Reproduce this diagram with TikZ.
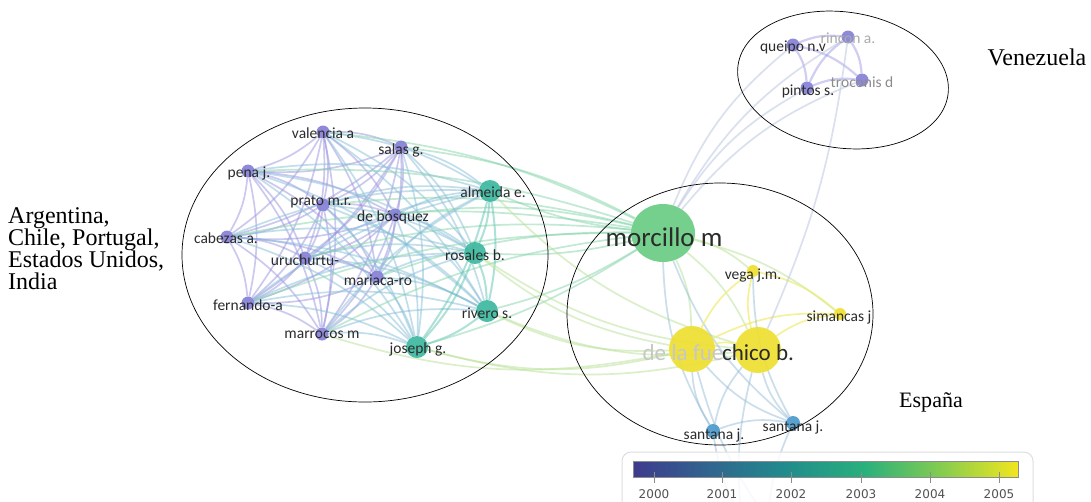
\documentclass[tikz,border=0pt]{standalone}
\usepackage{fontspec}
\setmainfont{Liberation Serif}
\newfontfamily\labfont{Carlito}
\newfontfamily\tickfont{DejaVu Sans}
\usetikzlibrary{shapes.geometric}
\pgfdeclarelayer{edges}
\pgfsetlayers{edges,main}
\pgfdeclarehorizontalshading{viridisbar}{100bp}{rgb(0bp)=(0.24,0.23,0.55); rgb(25bp)=(0.24,0.23,0.55); rgb(35bp)=(0.19,0.40,0.56); rgb(45bp)=(0.13,0.55,0.55); rgb(55bp)=(0.16,0.69,0.49); rgb(65bp)=(0.52,0.80,0.31); rgb(75bp)=(0.95,0.90,0.12); rgb(100bp)=(0.95,0.90,0.12)}
\definecolor{cP}{HTML}{8580D6}
\definecolor{cT}{HTML}{3DB89F}
\definecolor{cG}{HTML}{6ACD84}
\definecolor{cY}{HTML}{EEE030}
\definecolor{cB}{HTML}{4C9ACB}
\definecolor{ePPc}{HTML}{9A95E0}
\definecolor{ePTc}{HTML}{86BFD8}
\definecolor{eTTc}{HTML}{5FC4B0}
\definecolor{eGc}{HTML}{84D5AA}
\definecolor{eGYc}{HTML}{B8E296}
\definecolor{eYc}{HTML}{F0EC70}
\definecolor{eBc}{HTML}{96BED8}
\definecolor{eVc}{HTML}{A29EE4}
\definecolor{eVoc}{HTML}{B8C2E0}
\definecolor{labc}{HTML}{2B2B2B}
\begin{document}
\begin{tikzpicture}[x=1pt,y=-1pt,
  dotbase/.style={circle,inner sep=0pt,fill opacity=0.92},
  dotP/.style={dotbase,minimum size=13pt,fill=cP},
  dotV/.style={dotbase,minimum size=13pt,fill=cP},
  dotT/.style={dotbase,minimum size=22pt,fill=cT},
  dotG/.style={ellipse,inner sep=0pt,minimum width=64pt,minimum height=58pt,fill=cG,fill opacity=0.92},
  dotY/.style={dotbase,minimum size=46pt,fill=cY},
  dotYs/.style={dotbase,minimum size=12pt,fill=cY},
  dotB/.style={dotbase,minimum size=14pt,fill=cB},
  lbl/.style={font=\labfont\fontsize{15.5}{16}\selectfont,text=labc,inner sep=0pt},
  biglbl/.style={font=\labfont\fontsize{27}{28}\selectfont,text=labc,inner sep=0pt},
  midlbl/.style={font=\labfont\fontsize{23}{24}\selectfont,text=labc,inner sep=0pt},
  edgebase/.style={line width=1.7pt,draw opacity=0.5},
  ePP/.style={edgebase,draw=ePPc},
  ePT/.style={edgebase,draw=ePTc},
  eTT/.style={edgebase,draw=eTTc,line width=2pt},
  eG/.style={edgebase,draw=eGc},
  eGY/.style={edgebase,draw=eGYc},
  eY/.style={edgebase,draw=eYc,draw opacity=0.7},
  eB/.style={edgebase,draw=eBc},
  eV/.style={edgebase,draw=eVc,line width=2.2pt},
  eVo/.style={edgebase,draw=eVoc},
  ring/.style={draw=black,line width=0.7pt},
  country/.style={font=\fontsize{24}{22}\selectfont,inner sep=0pt,text=black},
  tickmark/.style={draw=black!45,line width=0.9pt},
  ticklbl/.style={font=\tickfont\fontsize{12}{13}\selectfont,text=black!68,inner sep=0pt}
]
\useasboundingbox (0,0) rectangle (1091,501);
\clip (0,0) rectangle (1091,501);

% nodes (dots)
\node[dotP] (va) at (323,132) {};
\node[dotP] (sa) at (401,147) {};
\node[dotP] (pe) at (248,171) {};
\node[dotP] (pr) at (323,205) {};
\node[dotP] (db) at (395,215) {};
\node[dotP] (ca) at (227,237) {};
\node[dotP] (ur) at (305,258) {};
\node[dotP] (ma) at (377,277) {};
\node[dotP] (fe) at (248,303) {};
\node[dotP] (mr) at (322,334) {};
\node[dotT] (al) at (490,191) {};
\node[dotT] (ro) at (475,253) {};
\node[dotT] (ri) at (487,311) {};
\node[dotT] (jo) at (417,347) {};
\node[dotG] (mo) at (663,233) {};
\node[dotYs] (ve) at (753,271) {};
\node[dotYs] (si) at (840,314) {};
\node[dotY] (df) at (692,349) {};
\node[dotY] (ch) at (758,350) {};
\node[dotB] (s1) at (713,431) {};
\node[dotB] (s2) at (793,423) {};
\node[dotV] (qu) at (793,45) {};
\node[dotV] (rn) at (848,37) {};
\node[dotV] (tr) at (862,80) {};
\node[dotV] (pi) at (807,88) {};
\coordinate (b1) at (742,520);
\coordinate (b2) at (768,520);

% edges
\begin{pgfonlayer}{edges}
\fill[white] (0,0) rectangle (1091,501);
\foreach \a [count=\i] in {va,sa,pe,pr,db,ca,ur,ma,fe,mr}{
  \foreach \b [count=\j] in {va,sa,pe,pr,db,ca,ur,ma,fe,mr}{
    \ifnum\j>\i \draw[ePP] (\a) to[bend left=12] (\b);\fi
  }
}
\foreach \a in {va,sa,pe,pr,db,ca,ur,ma,fe,mr}{
  \foreach \b in {al,ro,ri,jo}{
    \draw[ePT] (\a) to[bend left=12] (\b);
  }
  \draw[eG] (\a) to[bend left=10] (mo);
}
\foreach \a/\b in {al/ro,al/ri,al/jo,ro/ri,ro/jo,ri/jo}
  \draw[eTT] (\a) to[bend left=10] (\b);
\foreach \a in {al,ro,ri,jo}
  \draw[eG] (\a) to[bend right=8] (mo);
\foreach \a/\b in {jo/df,ri/df,ro/ch,al/ch,jo/ch,ri/ch,mr/df,ro/df}
  \draw[eGY] (\a) to[bend right=14] (\b);
\foreach \b in {df,ch,ve,si}
  \draw[eGY] (mo) to[bend left=12] (\b);
\foreach \b in {s1,s2}
  \draw[eB] (mo) to[bend right=14] (\b);
\foreach \a/\b in {df/ch,ch/si,df/si,ch/ve,df/ve,ve/si}
  \draw[eY] (\a) to[bend left=14] (\b);
\foreach \a/\b in {s1/s2,s1/ch,s2/ch,s1/df,s2/df,s2/ve}
  \draw[eB] (\a) to[bend left=14] (\b);
\foreach \a/\b in {s1/b1,s2/b2,ch/b1,df/b2}
  \draw[eB] (\a) to[bend right=10] (\b);
\foreach \a/\b in {qu/pi,qu/rn,qu/tr,pi/rn,pi/tr,rn/tr}
  \draw[eV] (\a) to[bend left=14] (\b);
\foreach \a in {qu,pi,rn,tr}
  \draw[eVo] (mo) to[bend left=14] (\a);
\draw[eVo] (rn) to[bend left=8] (ch);
\end{pgfonlayer}

% labels
\node[lbl] (lva) at (323,133) {valencia a};
\node[lbl] (lsa) at (401,150) {salas g.};
\node[lbl] (lpe) at (249,173) {pena j.};
\node[lbl] (lpr) at (321,202) {prato m.r.};
\node[lbl] (ldb) at (393,217) {de bósquez};
\node[lbl] (lal) at (493,192) {almeida e.};
\node[lbl] (lca) at (226,238) {cabezas a.};
\node[lbl] (lur) at (305,260) {uruchurtu-};
\node[lbl] (lma) at (378,280) {mariaca-ro};
\node[lbl] (lro) at (475,255) {rosales b.};
\node[lbl] (lfe) at (248,305) {fernando-a};
\node[lbl] (lri) at (487,313) {rivero s.};
\node[lbl] (lmr) at (322,335) {marrocos m};
\node[lbl] (ljo) at (418,349) {joseph g.};
\node[biglbl] (lmo) at (664,237) {morcillo m};
\node[lbl] (lve) at (753,275) {vega j.m.};
\node[lbl] (lsi) at (839,317) {simancas j};
\node[midlbl,text=black!22] (ldf) at (683,353) {de la fue};
\node[midlbl] (lch) at (758,353) {chico b.};
\node[lbl] (ls1) at (714,435) {santana j.};
\node[lbl] (ls2) at (793,427) {santana j.};
\node[lbl] (lqu) at (793,47) {queipo n.v};
\node[lbl,text=black!33] (lrn) at (848,38) {rincon a.};
\node[lbl,text=black!45] (ltr) at (862,82) {troconis d};
\node[lbl] (lpi) at (808,91) {pintos s.};

% group outlines
\draw[ring] (365,255) ellipse [x radius=183pt, y radius=147pt];
\draw[ring] (720,314) ellipse [x radius=153pt, y radius=131pt];
\draw[ring,rotate around={-8:(843,80)}] (843,80) ellipse [x radius=106pt, y radius=68pt];

% country texts
\node[country,anchor=north west,align=left] (targ) at (8,207.5) {Argentina,\\Chile, Portugal,\\Estados Unidos,\\India};
\node[country] (tven) at (1037,57) {Venezuela};
\node[country,font=\fontsize{22}{22}\selectfont] (tesp) at (931,402) {España};

% colour bar
\draw[draw=black!13,line width=1pt,fill=white,fill opacity=0.85,rounded corners=9pt] (622,452) rectangle (1033,540);
\shade[shading=viridisbar] (633,461) rectangle (1018,477);
\draw[draw=black!45,line width=0.8pt] (633,461) rectangle (1018,477);
\foreach \x/\yr in {654/2000,722/2001,791/2002,861/2003,930/2004,999/2005}{
  \draw[tickmark] (\x,472) -- (\x,483);
  \node[ticklbl] (t\yr) at (\x,494) {\yr};
}
\end{tikzpicture}
\end{document}
